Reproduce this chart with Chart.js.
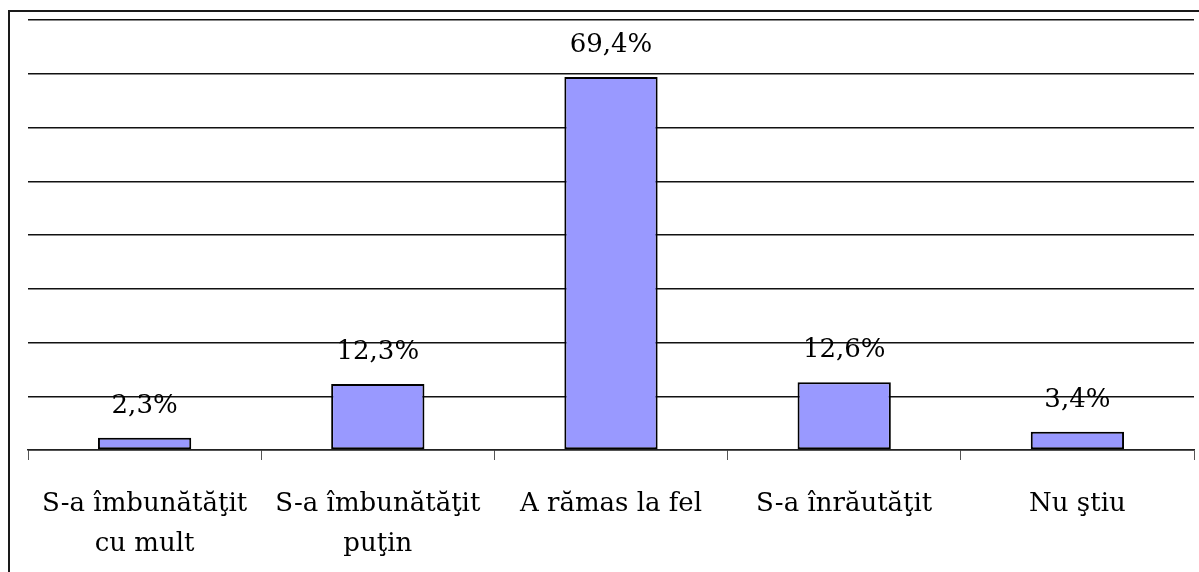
<!DOCTYPE html>
<html>
<head>
<meta charset="utf-8">
<script src="https://cdn.jsdelivr.net/npm/chart.js@4.4.0/dist/chart.umd.min.js"></script>
<style>
  html, body { margin: 0; padding: 0; background: #fff; }
  #wrap { width: 1199px; height: 572px; }
</style>
</head>
<body>
<div id="wrap"><canvas id="c" width="1199" height="572"></canvas></div>
<script>
const categories = [
  ['S-a îmbunătăţit', 'cu mult'],
  ['S-a îmbunătăţit', 'puţin'],
  'A rămas la fel',
  'S-a înrăutăţit',
  'Nu ştiu'
];
const values = [2.3, 12.3, 69.4, 12.6, 3.4];
const yMin = 0;
const yMax = 80;
const yStep = 10;

const FONT = '"DejaVu Serif", "Liberation Serif", serif';

const framePlugin = {
  id: 'frame',
  beforeDraw(chart) {
    const ctx = chart.ctx;
    ctx.save();
    ctx.fillStyle = '#fff';
    ctx.fillRect(0, 0, chart.width, chart.height);
    ctx.fillStyle = '#1a1a1a';
    ctx.fillRect(8, 10, 2, chart.height - 10);
    ctx.fillRect(8, 10, chart.width - 8, 2);
    ctx.restore();
  }
};

const valueLabels = {
  id: 'valueLabels',
  afterDatasetsDraw(chart) {
    const ctx = chart.ctx;
    const meta = chart.getDatasetMeta(0);
    ctx.save();
    ctx.font = '26px ' + FONT;
    ctx.fillStyle = '#000';
    ctx.textAlign = 'center';
    ctx.textBaseline = 'alphabetic';
    meta.data.forEach((bar, i) => {
      const txt = values[i].toFixed(1).replace('.', ',') + '%';
      ctx.fillText(txt, bar.x, bar.y - 25);
    });
    ctx.restore();
  }
};

new Chart(document.getElementById('c'), {
  type: 'bar',
  data: {
    labels: categories,
    datasets: [{
      data: values,
      backgroundColor: '#9999FF',
      borderColor: '#000',
      borderWidth: 2,
      borderSkipped: false,
      categoryPercentage: 1,
      barPercentage: 0.4
    }]
  },
  options: {
    responsive: false,
    animation: false,
    layout: { padding: { left: 28, right: 5, top: 20, bottom: 0 } },
    plugins: {
      legend: { display: false },
      tooltip: { enabled: false }
    },
    scales: {
      x: {
        offset: true,
        grid: {
          offset: true,
          drawOnChartArea: false,
          drawTicks: true,
          tickLength: 10,
          color: '#555',
          lineWidth: 1
        },
        border: { display: true, color: '#222', width: 1.5 },
        ticks: {
          color: '#000',
          padding: 24,
          maxRotation: 0,
          autoSkip: false,
          font: { family: FONT, size: 26, lineHeight: 1.54 }
        },
        afterFit(scale) { scale.height = 122; }
      },
      y: {
        min: yMin,
        max: yMax,
        ticks: { display: false, stepSize: yStep },
        grid: { color: '#111', lineWidth: 1.5, drawTicks: false },
        border: { display: false }
      }
    }
  },
  plugins: [framePlugin, valueLabels]
});
</script>
</body>
</html>
